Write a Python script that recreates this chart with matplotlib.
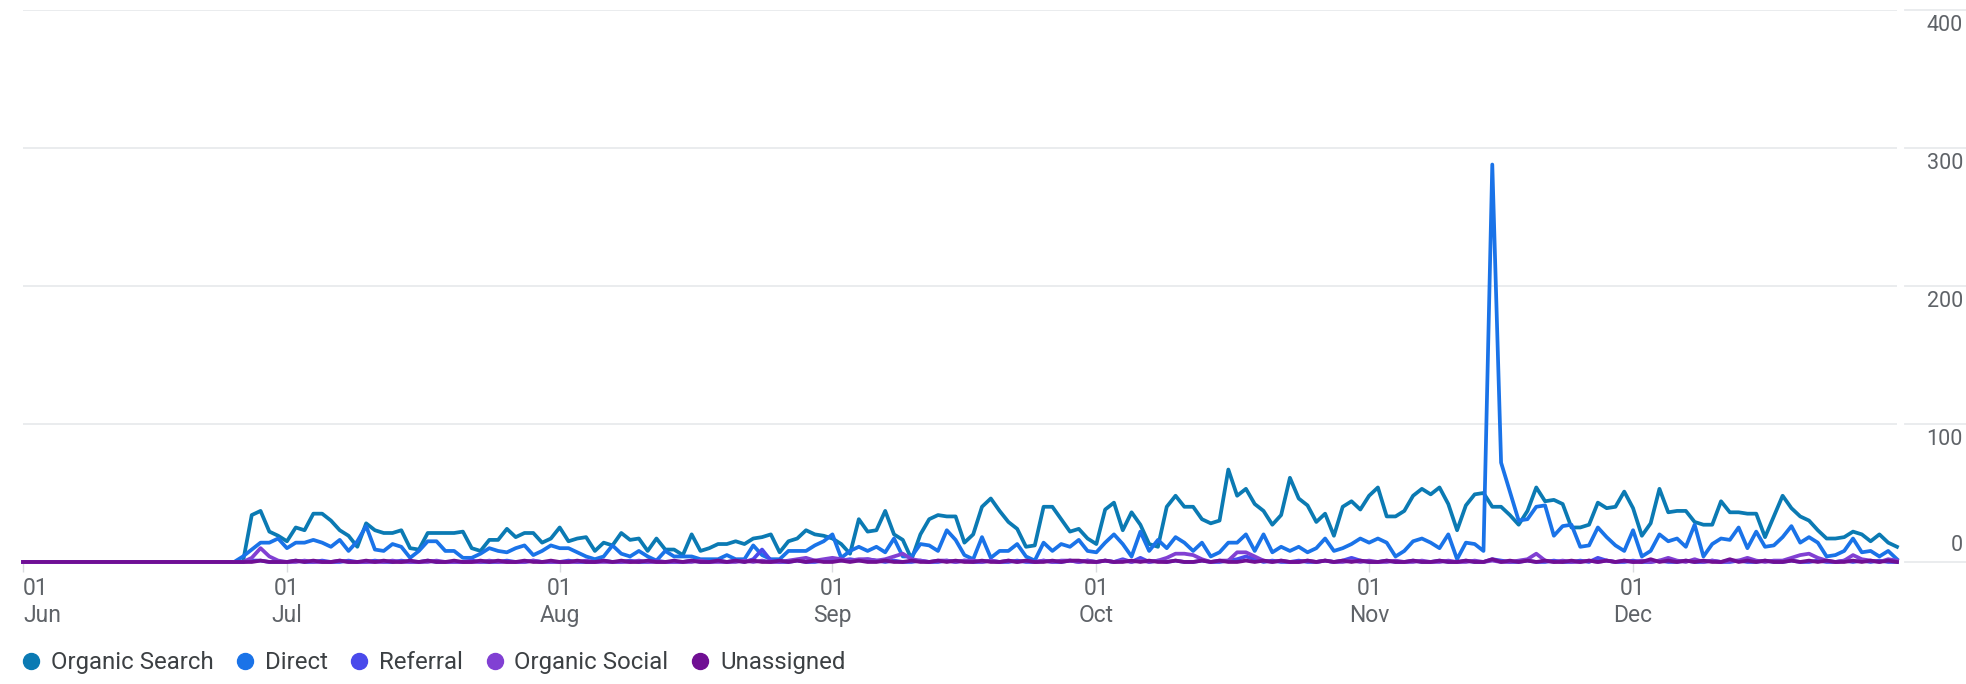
import matplotlib.pyplot as plt
import matplotlib.transforms as mtransforms
from matplotlib.lines import Line2D
import pandas as pd

plt.rcParams['font.family'] = ['Roboto', 'DejaVu Sans']

# daily values, 01 Jun .. 31 Dec
dates = pd.date_range('2024-06-01', '2024-12-31', freq='D')

organic_search = [
    0, 0, 0, 0, 0, 0, 0, 0, 0, 0,
    0, 0, 0, 0, 0, 0, 0, 0, 0, 0,
    0, 0, 0, 0, 0, 0, 34, 37, 22, 19,
    15, 25, 23, 35, 35, 30, 23, 19, 11, 28,
    23, 21, 21, 23, 10, 9, 21, 21, 21, 21,
    22, 10, 8, 16, 16, 24, 18, 21, 21, 14,
    17, 25, 15, 17, 18, 8, 14, 12, 21, 16,
    17, 8, 17, 9, 9, 5, 20, 8, 10, 13,
    13, 15, 13, 17, 18, 20, 7, 15, 17, 23,
    20, 19, 17, 13, 6, 31, 22, 23, 37, 20,
    16, 2, 20, 31, 34, 33, 33, 14, 20, 40,
    46, 37, 29, 24, 11, 12, 40, 40, 31, 22,
    24, 17, 13, 38, 43, 23, 36, 27, 13, 11,
    40, 48, 40, 40, 31, 28, 30, 67, 48, 53,
    42, 37, 27, 34, 61, 46, 41, 29, 35, 19,
    40, 44, 38, 48, 54, 33, 33, 37, 48, 53,
    49, 54, 42, 23, 41, 49, 50, 40, 40, 34,
    27, 37, 54, 44, 45, 42, 25, 25, 27, 43,
    39, 40, 51, 39, 19, 28, 53, 36, 37, 37,
    29, 27, 27, 44, 36, 36, 35, 35, 18, 33,
    48, 39, 33, 30, 23, 17, 17, 18, 22, 20,
    15, 20, 14, 11,
]

direct = [
    0, 0, 0, 0, 0, 0, 0, 0, 0, 0,
    0, 0, 0, 0, 0, 0, 0, 0, 0, 0,
    0, 0, 0, 0, 0, 4, 9, 14, 14, 17,
    10, 14, 14, 16, 14, 11, 16, 8, 15, 26,
    9, 8, 13, 11, 3, 8, 15, 15, 8, 8,
    3, 3, 6, 10, 8, 7, 10, 12, 5, 8,
    12, 10, 10, 7, 4, 2, 4, 12, 6, 4,
    8, 4, 1, 8, 4, 4, 4, 2, 2, 2,
    5, 2, 2, 12, 5, 2, 2, 8, 8, 8,
    12, 15, 20, 3, 8, 11, 8, 11, 7, 17,
    4, 4, 13, 12, 8, 23, 16, 5, 2, 18,
    3, 8, 8, 13, 4, 1, 14, 8, 13, 11,
    16, 8, 7, 14, 20, 13, 4, 22, 8, 16,
    10, 18, 14, 8, 14, 4, 7, 14, 14, 20,
    8, 20, 7, 11, 8, 11, 7, 10, 17, 8,
    10, 13, 17, 14, 17, 14, 4, 8, 15, 17,
    14, 10, 20, 2, 14, 13, 8, 288, 72, 51,
    30, 31, 40, 41, 19, 26, 27, 11, 12, 25,
    18, 12, 8, 23, 4, 8, 20, 15, 17, 11,
    27, 4, 13, 17, 16, 25, 10, 22, 11, 12,
    18, 26, 14, 18, 14, 4, 5, 8, 17, 7,
    8, 4, 8, 2,
]

referral = [
    0, 0, 0, 0, 0, 0, 0, 0, 0, 0,
    0, 0, 0, 0, 0, 0, 0, 0, 0, 0,
    0, 0, 0, 0, 0, 0, 1, 1, 0, 0,
    0, 1, 0, 0, 1, 0, 0, 1, 0, 0,
    1, 0, 0, 1, 0, 0, 1, 0, 0, 0,
    0, 1, 0, 0, 0, 1, 0, 0, 1, 0,
    0, 0, 1, 0, 0, 0, 1, 0, 0, 1,
    0, 0, 1, 0, 0, 0, 1, 0, 0, 1,
    0, 1, 0, 2, 9, 1, 0, 0, 1, 0,
    0, 1, 2, 1, 2, 1, 2, 1, 0, 1,
    0, 0, 1, 0, 0, 1, 0, 1, 0, 0,
    1, 0, 0, 1, 0, 0, 1, 0, 0, 1,
    0, 1, 0, 1, 0, 2, 0, 3, 0, 1,
    0, 1, 0, 0, 1, 0, 0, 1, 2, 4,
    2, 0, 1, 0, 0, 1, 0, 0, 1, 0,
    1, 3, 1, 0, 0, 1, 0, 0, 1, 0,
    0, 1, 0, 0, 1, 0, 0, 2, 1, 0,
    0, 1, 0, 0, 1, 0, 0, 1, 0, 3,
    1, 0, 0, 1, 0, 0, 1, 0, 0, 1,
    0, 0, 1, 0, 0, 1, 0, 0, 1, 0,
    0, 1, 0, 0, 1, 0, 0, 1, 0, 1,
    0, 1, 0, 0,
]

organic_social = [
    0, 0, 0, 0, 0, 0, 0, 0, 0, 0,
    0, 0, 0, 0, 0, 0, 0, 0, 0, 0,
    0, 0, 0, 0, 0, 0, 3, 10, 4, 1,
    0, 0, 1, 0, 0, 0, 1, 0, 0, 0,
    0, 0, 1, 0, 0, 0, 0, 1, 0, 0,
    0, 0, 0, 1, 0, 0, 0, 0, 1, 0,
    0, 0, 0, 0, 1, 0, 0, 0, 0, 0,
    1, 0, 0, 0, 0, 0, 0, 1, 0, 0,
    0, 0, 1, 0, 1, 0, 0, 1, 2, 3,
    1, 2, 3, 2, 1, 2, 2, 1, 2, 4,
    6, 2, 1, 0, 1, 1, 0, 1, 1, 0,
    1, 0, 1, 0, 1, 0, 1, 0, 1, 1,
    0, 1, 0, 1, 0, 1, 0, 1, 0, 1,
    3, 6, 6, 5, 2, 0, 1, 1, 7, 7,
    4, 1, 0, 1, 0, 0, 1, 0, 1, 0,
    0, 1, 0, 1, 0, 0, 1, 0, 0, 1,
    0, 0, 1, 0, 0, 1, 0, 1, 0, 0,
    1, 2, 6, 1, 0, 1, 0, 0, 1, 0,
    1, 0, 1, 0, 1, 0, 1, 3, 1, 0,
    2, 0, 1, 0, 1, 1, 3, 1, 0, 1,
    1, 3, 5, 6, 3, 1, 0, 1, 5, 2,
    1, 0, 2, 1,
]

unassigned = [
    0, 0, 0, 0, 0, 0, 0, 0, 0, 0,
    0, 0, 0, 0, 0, 0, 0, 0, 0, 0,
    0, 0, 0, 0, 0, 0, 0, 1, 0, 0,
    0, 1, 0, 1, 0, 0, 1, 0, 0, 1,
    0, 1, 0, 0, 1, 0, 1, 0, 0, 1,
    0, 0, 1, 0, 1, 0, 0, 1, 0, 0,
    1, 0, 0, 1, 0, 0, 1, 0, 1, 0,
    0, 1, 0, 0, 1, 0, 1, 0, 0, 1,
    0, 1, 0, 1, 0, 0, 1, 0, 1, 0,
    1, 0, 0, 1, 0, 1, 0, 0, 1, 0,
    0, 1, 0, 0, 1, 0, 1, 0, 0, 1,
    0, 0, 1, 0, 1, 0, 0, 1, 0, 1,
    1, 0, 0, 1, 0, 0, 1, 0, 1, 0,
    0, 1, 0, 0, 1, 0, 1, 0, 0, 1,
    0, 1, 0, 1, 0, 0, 1, 0, 1, 0,
    1, 0, 1, 0, 0, 1, 0, 0, 1, 0,
    0, 1, 0, 0, 1, 0, 0, 2, 0, 1,
    0, 1, 0, 1, 0, 0, 1, 0, 1, 0,
    1, 0, 1, 0, 0, 2, 0, 1, 0, 1,
    0, 1, 0, 0, 2, 0, 1, 0, 1, 0,
    0, 1, 0, 1, 0, 1, 0, 0, 1, 0,
    1, 0, 1, 0,
]

names = ['Organic Search', 'Direct', 'Referral', 'Organic Social', 'Unassigned']
colors = ['#0b7ab3', '#1a73e8', '#4a4aeb', '#8140d3', '#700f93']
values = [organic_search, direct, referral, organic_social, unassigned]

month_ticks = pd.to_datetime(['2024-06-01', '2024-07-01', '2024-08-01', '2024-09-01',
                              '2024-10-01', '2024-11-01', '2024-12-01'])
month_labels = ['01\nJun', '01\nJul', '01\nAug', '01\nSep', '01\nOct', '01\nNov', '01\nDec']
yticks = [0, 100, 200, 300, 400]

grid_c = '#e8eaed'
fig = plt.figure(figsize=(19.66, 6.84), dpi=100)
ax = fig.add_axes([0.0117, 0.1784, 0.9532, 0.807])

for name, vals, col in zip(names, values, colors):
    ax.plot(dates, vals, color=col, lw=2.7, clip_on=False, zorder=3)

ax.set_xlim(dates[0], dates[-1])
ax.set_ylim(0, 400)
for s in ax.spines.values():
    s.set_visible(False)

ax.set_yticks(yticks)
ax.grid(axis='y', color=grid_c, lw=1.3)
ax.tick_params(axis='y', length=0, labelleft=False)
ytr = ax.get_yaxis_transform()
for y in yticks:
    # short grid piece next to the labels
    ax.plot([1.0043, 1.0368], [y, y], transform=ytr, color=grid_c, lw=1.3, clip_on=False)
    dy = 12 if y == 0 else -11
    tr = mtransforms.offset_copy(ytr, fig=fig, x=0, y=dy, units='points')
    ax.text(1.0352, y, str(y), transform=tr, ha='right', va='center',
            fontsize=15.5, color='#5f6368')

ax.set_xticks(month_ticks)
ax.set_xticklabels(month_labels)
ax.tick_params(axis='x', length=7, width=1, color='#dadce0', pad=4,
               labelsize=16.5, labelcolor='#5f6368')
ax.get_xticklabels()[0].set_ha('left')

handles = [Line2D([], [], ls='', marker='o', ms=11.5, color=c, mec=c) for c in colors]
fig.legend(handles, names, loc='center left', bbox_to_anchor=(0.0108, 0.031),
           ncol=5, frameon=False, fontsize=17.3, handlelength=0.8, handletextpad=0.42,
           columnspacing=0.92, borderaxespad=0, borderpad=0, labelcolor='#3c4043')

fig.savefig('out.png', dpi=100)
